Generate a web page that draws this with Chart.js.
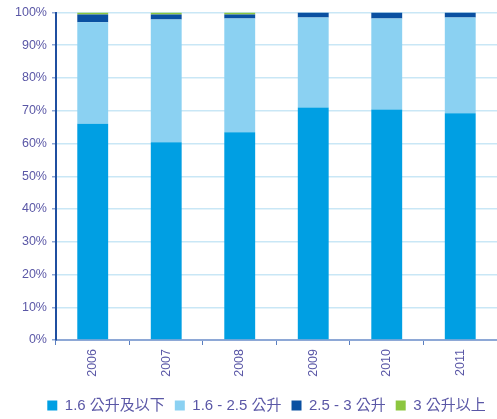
<!DOCTYPE html>
<html>
<head>
<meta charset="utf-8">
<script src="https://cdn.jsdelivr.net/npm/chart.js@4"></script>
<style>
  html, body { margin: 0; padding: 0; background: #ffffff; }
  #wrap { width: 497px; height: 419px; }
</style>
</head>
<body>
<div id="wrap"><canvas id="c" width="497" height="419"></canvas></div>
<script>
// Engine-size share of sales by year (percent)
const years = ['2006', '2007', '2008', '2009', '2010', '2011'];
const upTo16 = [66.0, 60.4, 63.4, 71.0, 70.4, 69.2];
const from16to25 = [31.0, 37.5, 34.8, 27.5, 27.8, 29.3];
const from25to3 = [2.4, 1.5, 1.2, 1.5, 1.8, 1.5];
const above3 = [0.6, 0.6, 0.6, 0.0, 0.0, 0.0];
const seriesNames = ['1.6 公升及以下', '1.6 - 2.5 公升', '2.5 - 3 公升', '3 公升以上'];
const yTicks = [0, 10, 20, 30, 40, 50, 60, 70, 80, 90, 100];

const colors = ['#009fe3', '#8bd1f2', '#0a50a1', '#8cc63f'];
const textColor = '#5a57a6';
const font = "Arial, 'Liberation Sans', 'Noto Sans CJK TC', sans-serif";

const seriesData = [upTo16, from16to25, from25to3, above3];

// keeps the legend row compact and nudges it into place
const legendPlace = {
  id: 'legendPlace',
  afterInit(chart, args, opts) {
    const lg = chart.legend;
    if (!lg) return;
    const fit = lg.fit;
    lg.fit = function () {
      fit.call(this);
      this.height = opts.height;
    };
  },
  afterLayout(chart, args, opts) {
    const lg = chart.legend;
    if (!lg) return;
    lg.left += opts.dx;
    lg.right += opts.dx;
    lg.top += opts.dy;
    lg.bottom += opts.dy;
  }
};

new Chart(document.getElementById('c'), {
  type: 'bar',
  data: {
    labels: years,
    datasets: seriesData.map((d, i) => ({
      label: seriesNames[i],
      data: d,
      backgroundColor: colors[i],
      borderWidth: 0,
      categoryPercentage: 0.84,
      barPercentage: 0.5
    }))
  },
  plugins: [legendPlace],
  options: {
    responsive: false,
    animation: false,
    layout: { padding: { top: 8, right: 0, left: 10, bottom: 0 } },
    plugins: {
      tooltip: { enabled: false },
      legendPlace: { dx: 13, dy: -3, height: 28 },
      legend: {
        position: 'bottom',
        labels: {
          color: textColor,
          boxWidth: 10,
          boxHeight: 10,
          padding: 10,
          font: { family: font, size: 15 },
          generateLabels(chart) {
            return chart.data.datasets.map((ds, i) => ({
              text: ds.label,
              fillStyle: ds.backgroundColor,
              strokeStyle: ds.backgroundColor,
              lineWidth: 0,
              fontColor: textColor,
              datasetIndex: i
            }));
          }
        }
      }
    },
    scales: {
      x: {
        stacked: true,
        offset: true,
        afterFit(scale) { scale.height = 51; },
        border: { color: '#8ea8d6', width: 2 },
        grid: { drawOnChartArea: false, drawTicks: true, tickLength: 5, color: '#5b7fc0', offset: true },
        ticks: {
          color: textColor,
          minRotation: 90,
          maxRotation: 90,
          padding: 4,
          font: { family: font, size: 12.5 }
        }
      },
      y: {
        stacked: true,
        min: 0,
        max: 100,
        afterBuildTicks(scale) { scale.ticks = yTicks.map(v => ({ value: v })); },
        border: { color: '#1f4fa0', width: 2 },
        grid: { color: '#c9e7f6', lineWidth: 1.5, tickLength: 4, tickColor: '#8ea8d6' },
        ticks: {
          color: textColor,
          padding: 5,
          font: { family: font, size: 12.5 },
          callback: v => v + '%'
        }
      }
    }
  }
});
</script>
</body>
</html>
